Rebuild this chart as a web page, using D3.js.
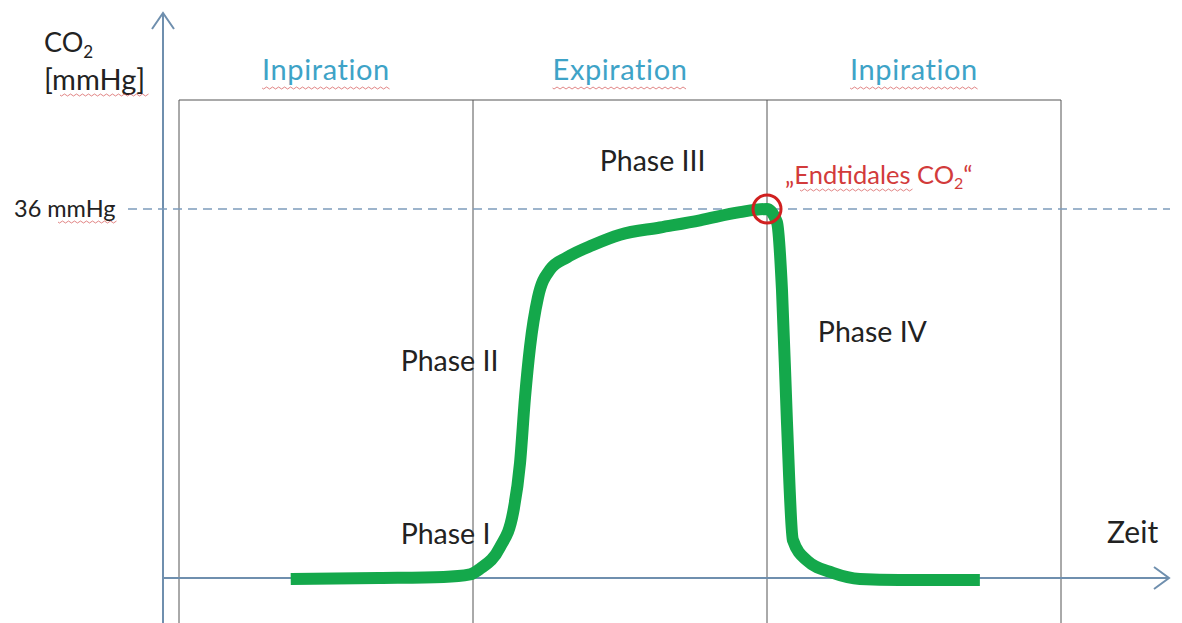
<!DOCTYPE html>
<html><head><meta charset="utf-8">
<script src="https://cdn.jsdelivr.net/npm/d3@7"></script>
<style>body{margin:0;background:#fff}svg{display:block}text{font-family:Lato,"Open Sans",sans-serif}</style>
</head><body><svg id="c" width="1182" height="623"></svg>
<script>
// Phases along time axis (box columns)
const phases = ["Inpiration", "Expiration", "Inpiration"];
// Capnogram curve: time (in breath-phase units) and CO2 (mmHg)
const timeVals = [0.38,0.68,0.9,0.99,1.024,1.092,1.136,1.16,1.177,1.194,1.221,1.262,1.32,1.408,1.5,1.636,1.772,1.908,2.0,2.034,2.051,2.068,2.088,2.136,2.224,2.316,2.45,2.724];
const co2Vals  = [0,0.1,0.2,0.45,1.0,3.1,6.4,11.3,17.7,22.6,27.4,30.1,31.3,32.5,33.5,34.2,34.9,35.7,36,34.7,28.1,15.2,3.8,1.8,0.6,0,-0.1,-0.1];
const refValue = 36;
const refLabel = "36 mmHg";
const phaseLabels = [
  {t:"Phase I", x:0.754, y:3.4},
  {t:"Phase II", x:0.754, y:20.2},
  {t:"Phase III", x:1.431, y:39.7},
  {t:"Phase IV", x:2.173, y:23.1}
];

const svg = d3.select("#c");
const x = d3.scaleLinear().domain([0,3]).range([179,1061]);
const y = d3.scaleLinear().domain([0,36]).range([579,209]);
const axisX = 163, axisY = 578;
const axisCol = "#6f8fae";

// box grid
const box = svg.append("g").attr("stroke","#555").attr("stroke-width",1).attr("fill","none");
box.append("line").attr("x1",x(0)).attr("x2",x(3)).attr("y1",100).attr("y2",100);
d3.range(4).forEach(i=>{
  box.append("line").attr("x1",x(i)).attr("x2",x(i)).attr("y1",100).attr("y2",623);
});

// axes
const ax = svg.append("g").attr("stroke",axisCol).attr("stroke-width",2).attr("fill","none");
ax.append("line").attr("x1",axisX).attr("x2",axisX).attr("y1",13).attr("y2",623);
ax.append("path").attr("d",`M${axisX-11},${29}L${axisX},${13}L${axisX+11},${29}`);
ax.append("line").attr("x1",axisX).attr("x2",1169).attr("y1",axisY).attr("y2",axisY);
ax.append("path").attr("d",`M${1154},${567}L${1169},${axisY}L${1154},${589}`);

// dashed reference
svg.append("line").attr("x1",128).attr("x2",1170).attr("y1",y(refValue)).attr("y2",y(refValue))
  .attr("stroke","#7d9cbc").attr("stroke-width",1.5).attr("stroke-dasharray","9,6");

// curve
const pts = timeVals.map((t,i)=>[t,co2Vals[i]]);
const line = d3.line().x(d=>x(d[0])).y(d=>y(d[1])).curve(d3.curveMonotoneX);
svg.append("path").attr("d",line(pts)).attr("fill","none").attr("stroke","#14a84b")
  .attr("stroke-width",12).attr("stroke-linecap","butt").attr("stroke-linejoin","round");

// red circle at end-tidal point
svg.append("circle").attr("cx",x(2)).attr("cy",y(refValue)).attr("r",14)
  .attr("fill","none").attr("stroke","#d0201f").attr("stroke-width",3);

// texts
function squiggle(x1,x2,yy){
  let d=`M${x1},${yy}`;
  for(let xx=x1;xx<x2;xx+=3){d+=`L${xx+1.5},${yy+(((xx-x1)/3)%2?-1:1)}`;}
  svg.append("path").attr("d",d).attr("fill","none").attr("stroke","#d04040").attr("stroke-width",0.8).attr("opacity",0.8);
}
const tc="#222";
const co2=svg.append("text").attr("x",44).attr("y",52).attr("font-size",27).attr("fill",tc);
co2.append("tspan").text("CO");
co2.append("tspan").text("2").attr("font-size",17).attr("dy",6);
svg.append("text").attr("x",44).attr("y",90).attr("font-size",29).attr("fill",tc).text("[mmHg]");
squiggle(60,148,95);

phases.forEach((p,i)=>{
  const t=svg.append("text").attr("x",x(i+0.5)).attr("y",80).attr("text-anchor","middle")
    .attr("font-size",29).attr("fill","#3ea3c7").attr("letter-spacing",0.6).text(p);
  const w=t.node().getComputedTextLength();
  squiggle(x(i+0.5)-w/2,x(i+0.5)+w/2,88);
});

svg.append("text").attr("x",14).attr("y",217).attr("font-size",23.5).attr("fill",tc).text(refLabel);
squiggle(58,118,222);

phaseLabels.forEach(p=>{
  svg.append("text").attr("x",x(p.x)).attr("y",y(p.y)).attr("font-size",28.5).attr("fill",tc).text(p.t);
});

const et=svg.append("text").attr("x",785).attr("y",184).attr("font-size",25.5).attr("fill","#d23b3b");
et.append("tspan").text("„Endtidales CO");
et.append("tspan").text("2").attr("font-size",16).attr("dy",5);
et.append("tspan").text("“").attr("dy",-5);
squiggle(800,912,190);

svg.append("text").attr("x",1107).attr("y",543).attr("font-size",30).attr("fill",tc).text("Zeit");
</script></body></html>
